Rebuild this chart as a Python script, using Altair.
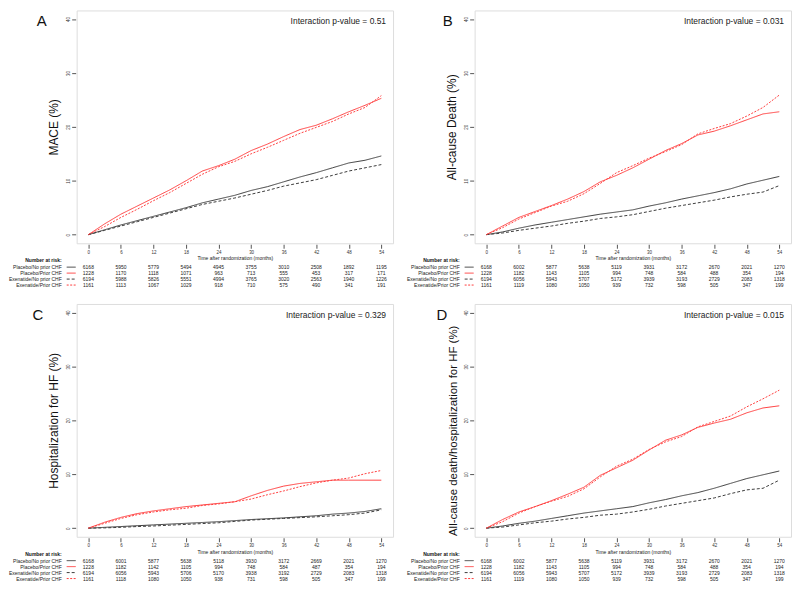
import altair as alt
import pandas as pd

# ---------------- data ----------------
months = [0, 3, 6, 9, 12, 15, 18, 21, 24, 27, 30, 33, 36, 39, 42, 45, 48, 51, 54]
risk_months = [0, 6, 12, 18, 24, 30, 36, 42, 48, 54]
groups = ["Placebo/No prior CHF", "Placebo/Prior CHF", "Exenatide/No prior CHF", "Exenatide/Prior CHF"]

panel_letters = ["A", "B", "C", "D"]
y_titles = ["MACE (%)", "All-cause Death (%)", "Hospitalization for HF (%)",
            "All-cause death/hospitalization for HF (%)"]
p_values = ["Interaction p-value = 0.51", "Interaction p-value = 0.031",
            "Interaction p-value = 0.329", "Interaction p-value = 0.015"]
x_title = "Time after randomization (months)"
risk_title = "Number at risk:"

# Panel A (MACE)
A_placebo_no = [0, 0.9, 1.8, 2.6, 3.4, 4.2, 5.0, 5.9, 6.6, 7.3, 8.2, 8.9, 9.8, 10.7, 11.5, 12.4, 13.3, 13.8, 14.6]
A_placebo_prior = [0, 2.0, 3.8, 5.3, 6.8, 8.3, 10.0, 11.8, 12.8, 14.0, 15.6, 16.8, 18.2, 19.5, 20.3, 21.5, 22.8, 24.0, 25.3]
A_exen_no = [0, 0.8, 1.6, 2.4, 3.2, 4.0, 4.8, 5.6, 6.2, 6.8, 7.5, 8.2, 9.0, 9.6, 10.2, 11.0, 11.8, 12.4, 13.0]
A_exen_prior = [0, 1.5, 3.2, 4.7, 6.3, 7.8, 9.5, 11.2, 12.6, 13.6, 15.0, 16.2, 17.5, 18.8, 19.9, 21.0, 22.4, 23.6, 25.8]

# Panel B (all-cause death)
B_placebo_no = [0, 0.5, 1.2, 1.8, 2.3, 2.8, 3.3, 3.8, 4.2, 4.6, 5.3, 5.9, 6.6, 7.2, 7.8, 8.5, 9.4, 10.1, 10.8]
B_placebo_prior = [0, 1.6, 3.2, 4.3, 5.4, 6.6, 8.0, 9.8, 11.0, 12.4, 14.0, 15.6, 16.9, 18.5, 19.2, 20.2, 21.3, 22.4, 22.8]
B_exen_no = [0, 0.3, 0.8, 1.2, 1.6, 2.1, 2.5, 3.0, 3.3, 3.7, 4.3, 4.9, 5.4, 5.9, 6.4, 7.0, 7.5, 7.9, 9.1]
B_exen_prior = [0, 1.3, 2.9, 4.1, 5.3, 6.2, 7.6, 9.5, 11.5, 12.8, 14.2, 15.4, 16.7, 18.7, 19.7, 20.6, 22.0, 23.6, 25.9]

# Panel C (hospitalization for HF)
C_placebo_no = [0, 0.15, 0.3, 0.45, 0.6, 0.75, 0.9, 1.05, 1.2, 1.4, 1.6, 1.75, 1.9, 2.1, 2.3, 2.6, 2.8, 3.1, 3.6]
C_placebo_prior = [0, 1.1, 2.0, 2.7, 3.2, 3.6, 4.0, 4.3, 4.6, 4.9, 6.0, 7.0, 7.8, 8.3, 8.6, 8.9, 8.9, 8.9, 8.9]
C_exen_no = [0, 0.05, 0.15, 0.3, 0.4, 0.55, 0.7, 0.85, 1.0, 1.25, 1.5, 1.65, 1.8, 1.95, 2.1, 2.3, 2.5, 2.8, 3.4]
C_exen_prior = [0, 0.9, 1.8, 2.5, 3.0, 3.4, 3.7, 4.2, 4.5, 4.9, 5.4, 6.2, 6.9, 7.7, 8.4, 8.9, 9.3, 10.1, 10.7]

# Panel D (all-cause death / hospitalization for HF)
D_placebo_no = [0, 0.4, 0.9, 1.3, 1.8, 2.3, 2.8, 3.2, 3.6, 4.0, 4.7, 5.3, 6.0, 6.6, 7.4, 8.3, 9.2, 9.9, 10.6]
D_placebo_prior = [0, 1.6, 3.0, 4.0, 5.1, 6.3, 7.6, 9.8, 11.2, 12.6, 14.5, 16.3, 17.3, 18.7, 19.5, 20.2, 21.4, 22.3, 22.7]
D_exen_no = [0, 0.2, 0.6, 1.0, 1.3, 1.7, 2.0, 2.4, 2.6, 3.0, 3.5, 4.1, 4.6, 5.1, 5.6, 6.4, 7.1, 7.4, 8.9]
D_exen_prior = [0, 1.2, 2.8, 4.0, 5.0, 5.9, 7.3, 9.5, 11.5, 12.8, 14.6, 16.0, 17.0, 18.8, 19.8, 20.8, 22.5, 24.0, 25.6]

# Number at risk tables
A_risk = [
    [6168, 5950, 5779, 5494, 4945, 3755, 3010, 2508, 1892, 1195],
    [1228, 1170, 1118, 1071, 963, 713, 555, 453, 317, 171],
    [6194, 5988, 5826, 5551, 4994, 3765, 3020, 2563, 1940, 1226],
    [1161, 1113, 1067, 1029, 918, 710, 575, 490, 341, 191],
]
B_risk = [
    [6168, 6002, 5877, 5638, 5119, 3931, 3172, 2670, 2021, 1270],
    [1228, 1182, 1143, 1105, 994, 748, 584, 488, 354, 194],
    [6194, 6056, 5943, 5707, 5172, 3939, 3193, 2729, 2083, 1318],
    [1161, 1119, 1080, 1050, 939, 732, 598, 505, 347, 199],
]
C_risk = [
    [6168, 6001, 5877, 5638, 5118, 3930, 3172, 2669, 2021, 1270],
    [1228, 1182, 1142, 1105, 994, 748, 584, 487, 354, 194],
    [6194, 6056, 5943, 5706, 5170, 3938, 3192, 2729, 2083, 1318],
    [1161, 1118, 1080, 1050, 938, 731, 598, 505, 347, 199],
]
D_risk = [
    [6168, 6002, 5877, 5638, 5119, 3931, 3172, 2670, 2021, 1270],
    [1228, 1182, 1143, 1105, 994, 748, 584, 488, 354, 194],
    [6194, 6056, 5943, 5707, 5172, 3939, 3193, 2729, 2083, 1318],
    [1161, 1119, 1080, 1050, 939, 732, 598, 505, 347, 199],
]

curves = [
    [A_placebo_no, A_placebo_prior, A_exen_no, A_exen_prior],
    [B_placebo_no, B_placebo_prior, B_exen_no, B_exen_prior],
    [C_placebo_no, C_placebo_prior, C_exen_no, C_exen_prior],
    [D_placebo_no, D_placebo_prior, D_exen_no, D_exen_prior],
]
risks = [A_risk, B_risk, C_risk, D_risk]

# ---------------- styling ----------------
W, H = 318, 234
DARK = "#3c3c3c"
RED = "#ff3d3d"
colors = [DARK, RED, DARK, RED]
dashes = [[1, 0], [1, 0], [3, 2], [2, 1.5]]
letter_dx = [-35, -27, -39, -33]
title_sizes = [12, 12, 12, 11.5]
title_shift = [0, 0, 0, 10]
FONT = "Liberation Sans"
RISK_FS = 5.0


def panel(i):
    rows = []
    for g, vals in zip(groups, curves[i]):
        for m, v in zip(months, vals):
            rows.append({"month": m, "pct": v, "group": g})
    df = pd.DataFrame(rows)

    xenc = alt.X(
        "month:Q",
        scale=alt.Scale(domain=[-2.16, 56.16], nice=False, zero=False),
        axis=alt.Axis(values=risk_months, title=x_title, grid=False, domain=False,
                      tickSize=4, offset=1, labelPadding=1, labelFontSize=4.5,
                      titleFontSize=5, titleFontWeight="normal", titlePadding=2,
                      labelColor="#333", tickColor="#555", titleColor="#222"),
    )
    yenc = alt.Y(
        "pct:Q",
        scale=alt.Scale(domain=[-1.6, 41.6], nice=False, zero=False),
        axis=alt.Axis(values=[0, 10, 20, 30, 40], title=y_titles[i], grid=False, domain=False,
                      tickSize=4, offset=1, labelPadding=1, labelFontSize=4.5, labelAngle=-90,
                      labelAlign="center", labelBaseline="bottom",
                      titleFontSize=title_sizes[i], titleFontWeight="normal", titlePadding=5,
                      titleY=H / 2 + title_shift[i],
                      labelColor="#333", tickColor="#555", titleColor="#111"),
    )

    lines = alt.Chart(df).mark_line(strokeWidth=1).encode(
        x=xenc,
        y=yenc,
        color=alt.Color("group:N", scale=alt.Scale(domain=groups, range=colors), legend=None),
        strokeDash=alt.StrokeDash("group:N", scale=alt.Scale(domain=groups, range=dashes), legend=None),
        detail="group:N",
    )

    one = pd.DataFrame({"t": [0]})
    letter = alt.Chart(pd.DataFrame({"t": [panel_letters[i]]})).mark_text(
        fontSize=15, align="center", baseline="middle", color="#111"
    ).encode(text="t:N", x=alt.value(letter_dx[i]), y=alt.value(11))

    pval = alt.Chart(pd.DataFrame({"t": [p_values[i]]})).mark_text(
        fontSize=8.5, align="right", baseline="middle", color="#222"
    ).encode(text="t:N", x=alt.value(W - 7), y=alt.value(11))

    rtitle = alt.Chart(pd.DataFrame({"t": [risk_title]})).mark_text(
        fontSize=RISK_FS, fontWeight="bold", align="right", baseline="middle", color="#111"
    ).encode(text="t:N", x=alt.value(-15), y=alt.value(H + 17))

    layers = [lines, letter, pval, rtitle]
    for r, g in enumerate(groups):
        yy = H + 24 + 6 * r
        rdf = pd.DataFrame({"month": risk_months, "n": risks[i][r]})
        layers.append(
            alt.Chart(rdf).mark_text(fontSize=RISK_FS, align="center", baseline="middle", color="#222")
            .encode(x=xenc, text=alt.Text("n:Q", format="d"), y=alt.value(yy))
        )
        layers.append(
            alt.Chart(pd.DataFrame({"t": [g]})).mark_text(
                fontSize=RISK_FS, align="right", baseline="middle", color="#222"
            ).encode(text="t:N", x=alt.value(-15), y=alt.value(yy))
        )
        layers.append(
            alt.Chart(one).mark_rule(color=colors[r], strokeDash=dashes[r], strokeWidth=1)
            .encode(x=alt.value(-10), x2=alt.value(-1), y=alt.value(yy))
        )
    return alt.layer(*layers).properties(width=W, height=H)


top = alt.hconcat(panel(0), panel(1), spacing=12)
bottom = alt.hconcat(panel(2), panel(3), spacing=12)
chart = (
    alt.vconcat(top, bottom, spacing=14)
    .properties(padding=0, background="white")
    .configure_view(stroke="#8a8a8a", strokeWidth=1)
    .configure(font=FONT)
)

chart.save("out.html", embed_options={"renderer": "svg", "actions": False})
